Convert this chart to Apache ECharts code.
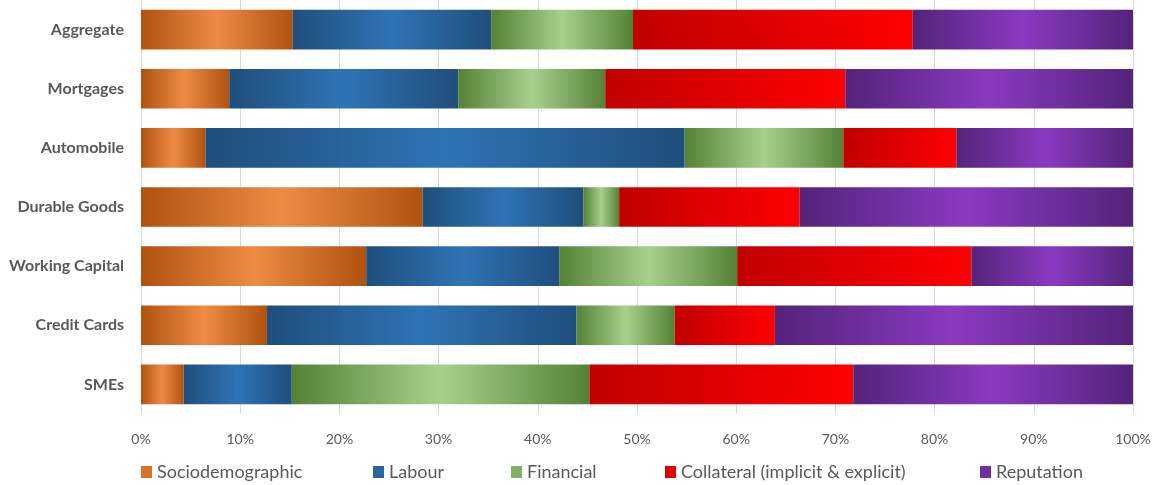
<!DOCTYPE html>
<html>
<head>
<meta charset="utf-8">
<script src="https://cdn.jsdelivr.net/npm/echarts@6/dist/echarts.min.js"></script>
<style>html,body{margin:0;padding:0;background:#fff}#c{width:1156px;height:485px}</style>
</head>
<body>
<div id="c"></div>
<script>
const categories = ['Aggregate','Mortgages','Automobile','Durable Goods','Working Capital','Credit Cards','SMEs'];
const seriesNames = ['Sociodemographic','Labour','Financial','Collateral (implicit & explicit)','Reputation'];
const sociodemographic = [15.3, 8.9, 6.5, 28.4, 22.7, 12.7, 4.3];
const labour = [20.0, 23.1, 48.3, 16.2, 19.5, 31.2, 10.9];
const financial = [14.3, 14.8, 16.0, 3.6, 17.9, 9.9, 30.0];
const collateral = [28.2, 24.2, 11.4, 18.2, 23.6, 10.1, 26.6];
const reputation = [22.2, 29.0, 17.8, 33.6, 16.3, 36.1, 28.2];
const tickValues = [0,10,20,30,40,50,60,70,80,90,100];

const FONT = 'Lato, sans-serif';
function hgrad(edge, mid){
  return new echarts.graphic.LinearGradient(0,0,1,0,[
    {offset:0,color:edge},{offset:0.5,color:mid},{offset:1,color:edge}]);
}
const fills = [
  hgrad('#B0520F','#EF8B45'),
  hgrad('#1F4E7C','#2E74B5'),
  hgrad('#548235','#A8D08D'),
  new echarts.graphic.LinearGradient(0,0,1,0,[{offset:0,color:'#C00000'},{offset:1,color:'#FF0000'}]),
  hgrad('#54237A','#8A3AC1')
];
const iconColors = ['#D9702C','#2A65A0','#82B064','#E00000','#7030A0'];
const dataArr = [sociodemographic, labour, financial, collateral, reputation];
const legendX = [136, 368, 506, 660, 975];

const chart = echarts.init(document.getElementById('c'), null, {renderer:'canvas'});
chart.setOption({
  animation:false,
  grid:{left:141, right:23, top:-2, bottom:71, containLabel:false},
  xAxis:{
    type:'value', min:0, max:100, interval:10,
    axisLine:{show:false}, axisTick:{show:false},
    splitLine:{show:true, lineStyle:{color:'#D9D9D9', width:1}},
    axisLabel:{formatter:'{value}%', color:'#595959', fontSize:14, fontFamily:FONT, margin:18}
  },
  yAxis:{
    type:'category', data:categories, inverse:true,
    axisLine:{show:true, lineStyle:{color:'#D9D9D9'}}, axisTick:{show:false},
    axisLabel:{color:'#595959', fontSize:16, fontWeight:'bold', fontFamily:FONT, margin:17}
  },
  legend: seriesNames.map((n,i)=>({
    data:[{name:n, itemStyle:{color:iconColors[i]}}], left:legendX[i], top:458, itemWidth:11, itemHeight:12, itemGap:0,
    textStyle:{color:'#595959', fontSize:18, fontFamily:FONT, padding:[0,0,0,0]},
    icon:'rect'
  })),
  series: seriesNames.map((n,i)=>({
    name:n, type:'bar', stack:'total', data:dataArr[i],
    barCategoryGap:'33%',
    itemStyle:{color:fills[i]},
    emphasis:{disabled:true}
  }))
});
</script>
</body>
</html>
